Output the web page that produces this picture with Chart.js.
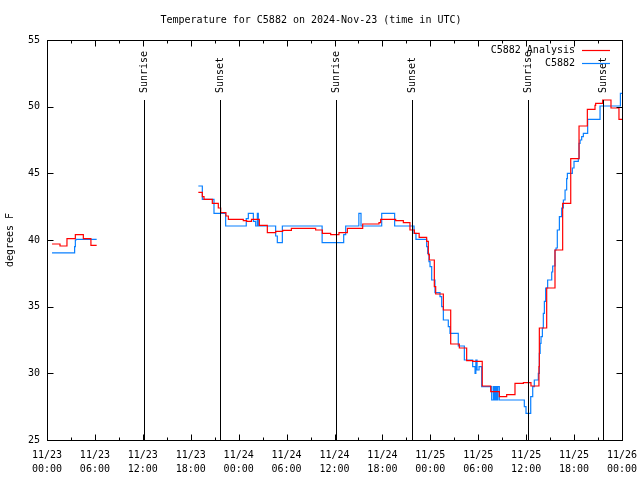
<!DOCTYPE html>
<html>
<head>
<meta charset="utf-8">
<script src="https://cdn.jsdelivr.net/npm/chart.js@4/dist/chart.umd.min.js"></script>
<style>
  html, body { margin: 0; padding: 0; background: #fff; }
  #wrap { width: 640px; height: 480px; }
</style>
</head>
<body>
<div id="wrap"><canvas id="grafico" width="640" height="480"></canvas></div>
<script>
// horas desde 11/23 00:00 UTC, valor vale ate o proximo ponto (degraus)
const horasAnalise = [0.63, 1.63, 2.5, 3.55, 4.55, 5.5, 6.22, 6.5,
  18.95, 19.45, 19.66, 20.7, 21.45, 21.75, 22.4, 22.71, 24.58, 25.0, 25.6, 26.59,
  27.59, 28.63, 29.51, 30.6, 33.64, 34.48, 35.52, 36.56, 37.61, 39.53, 41.57, 41.78,
  43.66, 44.62, 45.45, 46.0, 46.6, 47.54, 47.75, 47.87, 48.5, 48.67, 49.63, 50.55,
  51.63, 52.55, 53.3, 54.5, 55.56, 56.64, 57.56, 58.6, 59.65, 60.6, 61.6, 61.65,
  62.57, 63.61, 64.57, 65.58, 66.62, 67.66, 68.62, 68.7, 69.58, 70.62, 71.62, 72];
const tempAnalise = [39.7, 39.55, 40.1, 40.4, 40.1, 39.6, 39.6, null,
  43.57, 43.25, 43.05, 42.75, 42.4, 42.05, 41.8, 41.55, 41.45, 41.4, 41.55, 41.1,
  40.55, 40.65, 40.72, 40.87, 40.75, 40.5, 40.4, 40.55, 40.87, 41.2, 41.3, 41.55,
  41.45, 41.3, 40.75, 40.5, 40.2, 39.9, 38.9, 38.5, 36.5, 35.95, 34.75, 32.2,
  31.9, 30.95, 30.9, 29.05, 28.63, 28.25, 28.4, 29.25, 29.3, 29.05, 30.5, 33.4,
  36.4, 39.25, 42.75, 46.1, 48.55, 49.8, 50.1, 50.25, 50.5, 49.9, 49.05, 49.05];

const horasEstacao = [0.63, 3.46, 3.55, 3.63, 6.22, 6.5,
  18.95, 19.45, 20.91, 22.37, 24.95, 25.21, 25.84, 26.13, 26.34, 26.46, 28.63, 28.84,
  29.47, 34.45, 37.15, 37.4, 39.05, 39.32, 41.91, 43.53, 45.96, 46.2, 47.54, 47.67,
  47.83, 47.96, 48.17, 48.58, 49.21, 49.42, 49.63, 50.25, 50.46, 51.5, 52.26, 53.3,
  53.6, 53.7, 53.85, 54.1, 54.43, 55.68, 55.9, 56.0, 56.15, 56.3, 56.45, 56.64,
  59.77, 59.98, 60.57, 60.82, 61.02, 61.52, 61.65, 61.75, 61.86, 62.03, 62.15, 62.28,
  62.44, 62.69, 63.2, 63.32, 63.61, 63.74, 63.9, 64.16, 64.45, 64.66, 64.87, 65.07,
  65.16, 65.78, 65.99, 66.53, 66.62, 66.75, 66.95, 67.16, 67.7, 69.25, 71.8, 72];
const tempEstacao = [39.03, 39.5, 40.0, 40.05, 40.05, null,
  44.05, 43.05, 42.0, 41.05, 41.6, 42.0, 41.4, 41.05, 42.0, 41.05, 40.3, 39.8,
  41.05, 39.8, 40.4, 41.05, 42.0, 41.05, 42.0, 41.05, 40.5, 40.05, 39.5, 39.0,
  38.38, 38.0, 37.0, 36.05, 35.75, 35.0, 34.0, 33.5, 33.0, 32.05, 31.0, 30.5,
  30.0, 31.0, 30.25, 30.5, 29.0, 28.0, 29.0, 28.0, 29.0, 28.0, 29.0, 28.0,
  27.5, 27.0, 28.25, 29.0, 29.5, 30.0, 31.5, 32.25, 32.75, 33.4, 34.5, 35.4,
  36.4, 37.0, 37.6, 38.05, 39.25, 39.4, 40.75, 41.75, 42.4, 43.0, 43.75, 44.6,
  45.0, 45.4, 45.9, 46.1, 47.25, 47.5, 47.75, 48.0, 49.05, 50.05, 51.0, 51.0];

const nascerSol = [12.2, 36.2, 60.27];
const porSol = [21.7, 45.75, 69.66];

const rotulosX = [['11/23', '00:00'], ['11/23', '06:00'], ['11/23', '12:00'], ['11/23', '18:00'],
  ['11/24', '00:00'], ['11/24', '06:00'], ['11/24', '12:00'], ['11/24', '18:00'],
  ['11/25', '00:00'], ['11/25', '06:00'], ['11/25', '12:00'], ['11/25', '18:00'],
  ['11/26', '00:00']];

const FONTE = 'DejaVu Sans Mono';
const VERMELHO = '#ff0000';
const AZUL = '#0a80ff';

function pontos(horas, temps) {
  return horas.map((h, i) => ({ x: h, y: temps[i] }));
}

// moldura, marcas internas, linhas do sol e legenda
const extras = {
  id: 'extras',
  afterDatasetsDraw(chart) {
    const ctx = chart.ctx;
    const area = chart.chartArea;
    const sx = chart.scales.x;
    const sy = chart.scales.y;
    ctx.save();
    ctx.strokeStyle = '#000';
    ctx.lineWidth = 1;

    // linhas nascer/por do sol
    ctx.font = '10px "' + FONTE + '"';
    ctx.fillStyle = '#000';
    const desenhaSol = (h, texto) => {
      const px = Math.round(sx.getPixelForValue(h)) + 0.5;
      ctx.beginPath();
      ctx.moveTo(px, 100);
      ctx.lineTo(px, area.bottom);
      ctx.stroke();
      ctx.save();
      ctx.translate(px, 93);
      ctx.rotate(-Math.PI / 2);
      ctx.textAlign = 'left';
      ctx.textBaseline = 'middle';
      ctx.fillText(texto, 0, 0);
      ctx.restore();
    };
    nascerSol.forEach(h => desenhaSol(h, 'Sunrise'));
    porSol.forEach(h => desenhaSol(h, 'Sunset'));

    // moldura
    const l = Math.round(area.left) + 0.5, r = Math.round(area.right) + 0.5;
    const t = Math.round(area.top) + 0.5, b = Math.round(area.bottom) + 0.5;
    ctx.strokeRect(l, t, r - l, b - t);

    // marcas eixo x (a cada 3h)
    ctx.beginPath();
    for (let h = 0; h <= 72; h += 3) {
      const px = Math.round(sx.getPixelForValue(h)) + 0.5;
      const len = h % 6 === 0 ? 6 : 3;
      ctx.moveTo(px, b); ctx.lineTo(px, b - len);
      ctx.moveTo(px, t); ctx.lineTo(px, t + len);
    }
    // marcas eixo y
    for (let v = 25; v <= 55; v += 5) {
      const py = Math.round(sy.getPixelForValue(v)) + 0.5;
      ctx.moveTo(l, py); ctx.lineTo(l + 6, py);
      ctx.moveTo(r, py); ctx.lineTo(r - 6, py);
    }
    ctx.stroke();

    // legenda
    const itens = [['C5882 Analysis', VERMELHO], ['C5882', AZUL]];
    itens.forEach((it, i) => {
      const y = 50 + i * 13;
      ctx.fillStyle = '#000';
      ctx.textAlign = 'right';
      ctx.textBaseline = 'middle';
      ctx.fillText(it[0], 575, y);
      ctx.strokeStyle = it[1];
      ctx.lineWidth = 1.2;
      ctx.beginPath();
      ctx.moveTo(582, y + 0.5);
      ctx.lineTo(610, y + 0.5);
      ctx.stroke();
    });
    ctx.restore();
  }
};

new Chart(document.getElementById('grafico').getContext('2d'), {
  type: 'line',
  data: {
    datasets: [
      {
        label: 'C5882 Analysis',
        data: pontos(horasAnalise, tempAnalise),
        borderColor: VERMELHO,
        borderWidth: 1.2,
        pointRadius: 0,
        stepped: true,
        fill: false
      },
      {
        label: 'C5882',
        data: pontos(horasEstacao, tempEstacao),
        borderColor: AZUL,
        borderWidth: 1.2,
        pointRadius: 0,
        stepped: true,
        fill: false
      }
    ]
  },
  options: {
    responsive: false,
    animation: false,
    devicePixelRatio: 1,
    layout: { padding: { left: 0, right: 18, top: 0, bottom: 0 } },
    plugins: {
      legend: { display: false },
      tooltip: { enabled: false },
      title: {
        display: true,
        text: 'Temperature for C5882 on 2024-Nov-23 (time in UTC)',
        color: '#000',
        font: { family: FONTE, size: 10, weight: 'normal' },
        padding: { top: 14, bottom: 14 }
      }
    },
    scales: {
      x: {
        type: 'linear',
        min: 0,
        max: 72,
        grid: { display: false, drawTicks: false },
        border: { display: false },
        afterFit(scale) {
          scale.height = 40;
          scale.paddingLeft = 0;
          scale.paddingRight = 0;
        },
        afterBuildTicks(scale) {
          scale.ticks = rotulosX.map((_, i) => ({ value: i * 6 }));
        },
        ticks: {
          autoSkip: false,
          maxRotation: 0,
          padding: 8.5,
          color: '#000',
          font: { family: FONTE, size: 10, lineHeight: 1.4 },
          callback: (v) => rotulosX[Math.round(v / 6)]
        }
      },
      y: {
        min: 25,
        max: 55,
        grid: { display: false, drawTicks: false },
        border: { display: false },
        afterFit(scale) {
          scale.width = 47;
          scale.paddingTop = 0;
          scale.paddingBottom = 0;
        },
        ticks: {
          stepSize: 5,
          padding: 7,
          color: '#000',
          font: { family: FONTE, size: 10 }
        },
        title: {
          display: true,
          text: 'degrees F',
          color: '#000',
          font: { family: FONTE, size: 10 },
          padding: { top: 4, bottom: 0 }
        }
      }
    }
  },
  plugins: [extras]
});
</script>
</body>
</html>
